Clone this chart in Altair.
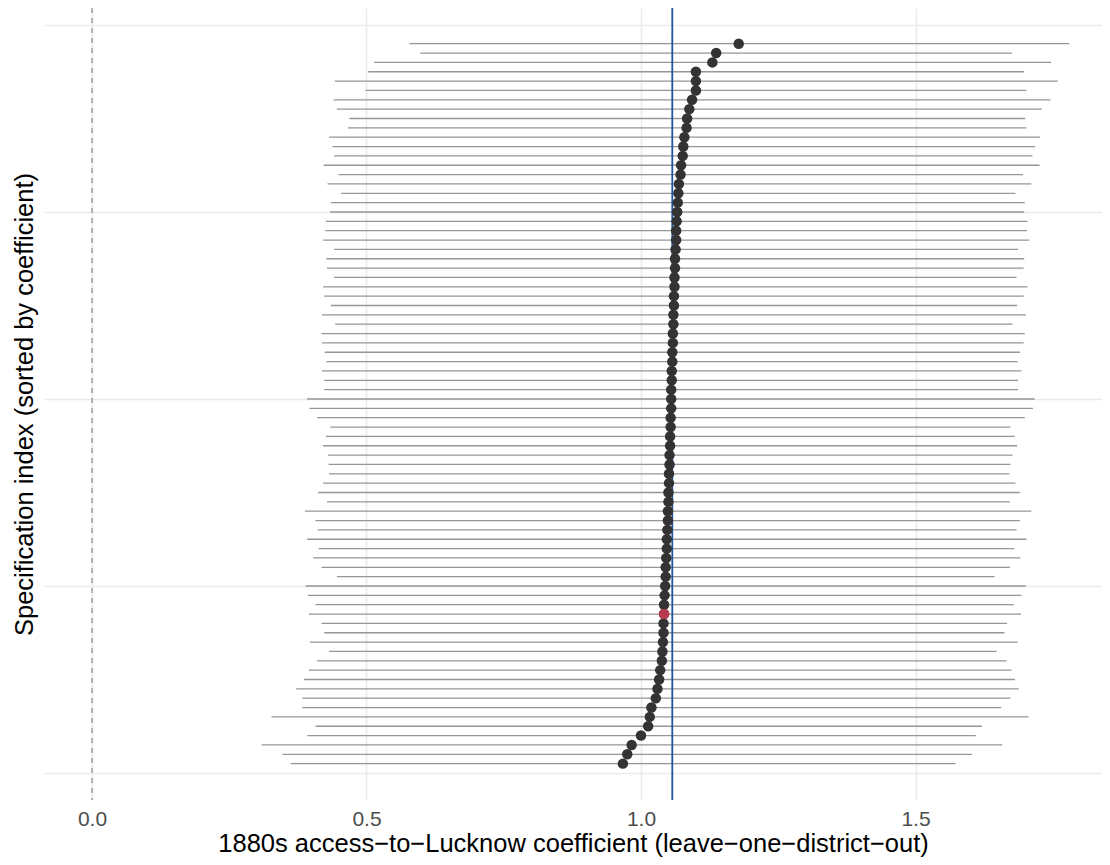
import altair as alt
import pandas as pd

# ---- data (spec 1 = bottom, 78 = top) ----
spec_index = list(range(1, 79))

coef = [
    0.967, 0.975, 0.983, 1.000, 1.013, 1.016, 1.019, 1.027, 1.030, 1.033,
    1.035, 1.038, 1.039, 1.040, 1.041, 1.041, 1.042, 1.042, 1.043, 1.044,
    1.045, 1.045, 1.046, 1.047, 1.047, 1.048, 1.049, 1.049, 1.050, 1.050,
    1.051, 1.051, 1.052, 1.052, 1.053, 1.053, 1.054, 1.054, 1.055, 1.055,
    1.055, 1.056, 1.056, 1.057, 1.057, 1.058, 1.058, 1.059, 1.059, 1.060,
    1.060, 1.061, 1.061, 1.062, 1.062, 1.063, 1.064, 1.064, 1.065, 1.066,
    1.067, 1.068, 1.069, 1.072, 1.073, 1.076, 1.077, 1.079, 1.083, 1.084,
    1.088, 1.093, 1.100, 1.100, 1.100, 1.130, 1.137, 1.178,
]

lower = [
    0.362, 0.347, 0.309, 0.392, 0.407, 0.327, 0.383, 0.383, 0.372, 0.386,
    0.395, 0.410, 0.432, 0.397, 0.423, 0.418, 0.395, 0.407, 0.393, 0.389,
    0.446, 0.418, 0.403, 0.413, 0.392, 0.411, 0.407, 0.388, 0.428, 0.412,
    0.421, 0.432, 0.431, 0.430, 0.421, 0.426, 0.434, 0.410, 0.396, 0.392,
    0.423, 0.423, 0.419, 0.427, 0.424, 0.419, 0.418, 0.443, 0.419, 0.435,
    0.423, 0.421, 0.441, 0.428, 0.427, 0.441, 0.421, 0.425, 0.426, 0.434,
    0.435, 0.454, 0.429, 0.449, 0.422, 0.441, 0.438, 0.432, 0.466, 0.469,
    0.446, 0.440, 0.498, 0.442, 0.503, 0.514, 0.598, 0.578,
]

upper = [
    1.573, 1.603, 1.658, 1.610, 1.621, 1.706, 1.656, 1.673, 1.688, 1.681,
    1.675, 1.666, 1.648, 1.686, 1.662, 1.667, 1.692, 1.679, 1.693, 1.701,
    1.644, 1.672, 1.691, 1.680, 1.702, 1.684, 1.690, 1.711, 1.672, 1.690,
    1.682, 1.671, 1.673, 1.677, 1.685, 1.681, 1.673, 1.699, 1.714, 1.717,
    1.687, 1.687, 1.693, 1.686, 1.690, 1.697, 1.699, 1.677, 1.701, 1.685,
    1.697, 1.704, 1.684, 1.697, 1.698, 1.687, 1.707, 1.703, 1.704, 1.698,
    1.699, 1.682, 1.711, 1.696, 1.726, 1.713, 1.718, 1.727, 1.702, 1.700,
    1.730, 1.746, 1.702, 1.759, 1.698, 1.747, 1.676, 1.780,
]

highlight_spec = 17
reference_value = [1.057]
zero_value = [0.0]
x_ticks = [0.0, 0.5, 1.0, 1.5]
y_grid = [0, 20, 40, 60, 80]

x_title = "1880s access\u2212to\u2212Lucknow coefficient (leave\u2212one\u2212district\u2212out)"
y_title = "Specification index (sorted by coefficient)"

df = pd.DataFrame({"spec": spec_index, "coef": coef, "lower": lower, "upper": upper})
df_hi = df[df["spec"] == highlight_spec]
df_zero = pd.DataFrame({"x": zero_value})
df_ref = pd.DataFrame({"x": reference_value})

FONT = "Liberation Sans"

xscale = alt.Scale(domain=[-0.0874, 1.8397], nice=False, zero=False)
yscale = alt.Scale(domain=[-2.89, 81.82], nice=False, zero=False)

xaxis = alt.Axis(
    values=x_ticks, format=".1f", grid=True, gridColor="#EBEBEB", gridWidth=1.6,
    ticks=False, domain=False, labelFontSize=21, labelColor="#4D4D4D",
    labelFont=FONT, labelPadding=8, titleFont=FONT, titleFontSize=25.5,
    titleFontWeight="normal", titleColor="#000000", titlePadding=2,
)
yaxis = alt.Axis(
    values=y_grid, labels=False, ticks=False, domain=False, grid=True,
    gridColor="#EBEBEB", gridWidth=1.6, titleFont=FONT, titleFontSize=25.5,
    titleFontWeight="normal", titleColor="#000000", titlePadding=7,
)

X = lambda f: alt.X(f, scale=xscale, axis=xaxis, title=x_title)
Y = lambda f: alt.Y(f, scale=yscale, axis=yaxis, title=y_title)

ci = alt.Chart(df).mark_rule(color="#969696", strokeWidth=1.3).encode(
    x=X("lower:Q"), x2="upper:Q", y=Y("spec:Q")
)
zero_line = alt.Chart(df_zero).mark_rule(
    color="#7F7F7F", strokeWidth=1.1, strokeDash=[5, 5]
).encode(x=X("x:Q"))
ref_line = alt.Chart(df_ref).mark_rule(color="#22549A", strokeWidth=1.8).encode(
    x=X("x:Q")
)
pts = alt.Chart(df).mark_circle(size=110, opacity=1, color="#333333").encode(
    x=X("coef:Q"), y=Y("spec:Q")
)
hi = alt.Chart(df_hi).mark_circle(size=110, opacity=1, color="#B73A4D").encode(
    x=X("coef:Q"), y=Y("spec:Q")
)

chart = alt.layer(ci, zero_line, ref_line, pts, hi).properties(
    width=1058, height=792,
    padding={"left": 36, "top": 0, "right": 0, "bottom": 62},
    autosize=alt.AutoSizeParams(type="none"),
    background="white",
).configure_view(stroke=None)

chart.save("out.html", embed_options={"renderer": "svg", "actions": False})
